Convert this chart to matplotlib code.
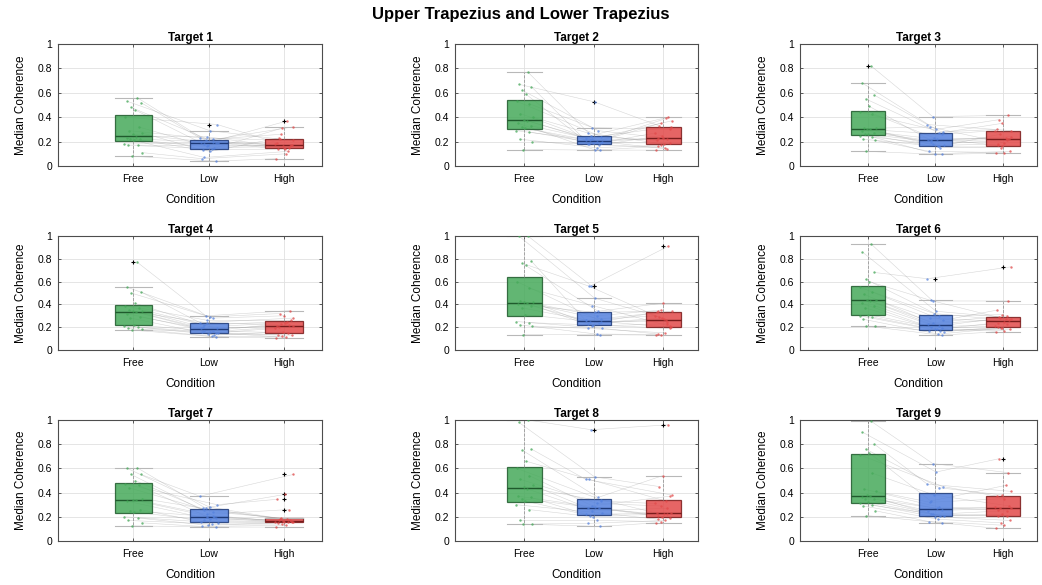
import matplotlib
matplotlib.use('Agg')
import matplotlib.pyplot as plt
import numpy as np

plt.rcParams['font.family'] = ['Liberation Sans', 'DejaVu Sans']

conditions = ['Free', 'Low', 'High']

# median coherence per subject (20 subjects), per target
t1_free = [0.56, 0.53, 0.52, 0.48, 0.46, 0.40, 0.32, 0.29, 0.27, 0.26, 0.24, 0.23, 0.22, 0.22, 0.21, 0.18, 0.17, 0.17, 0.11, 0.08]
t1_low = [0.21, 0.29, 0.23, 0.20, 0.18, 0.34, 0.16, 0.22, 0.13, 0.19, 0.24, 0.12, 0.20, 0.15, 0.07, 0.19, 0.17, 0.14, 0.06, 0.04]
t1_high = [0.16, 0.22, 0.21, 0.15, 0.37, 0.19, 0.17, 0.26, 0.14, 0.18, 0.15, 0.23, 0.32, 0.16, 0.12, 0.14, 0.17, 0.31, 0.10, 0.06]

t2_free = [0.77, 0.67, 0.65, 0.62, 0.59, 0.53, 0.51, 0.43, 0.40, 0.38, 0.37, 0.35, 0.33, 0.32, 0.31, 0.29, 0.28, 0.22, 0.20, 0.135]
t2_low = [0.25, 0.525, 0.21, 0.29, 0.18, 0.24, 0.315, 0.20, 0.27, 0.19, 0.22, 0.13, 0.23, 0.17, 0.21, 0.20, 0.19, 0.15, 0.18, 0.13]
t2_high = [0.40, 0.33, 0.37, 0.23, 0.39, 0.21, 0.30, 0.35, 0.18, 0.27, 0.22, 0.16, 0.32, 0.25, 0.14, 0.23, 0.19, 0.17, 0.15, 0.13]

t3_free = [0.82, 0.68, 0.58, 0.55, 0.49, 0.44, 0.43, 0.31, 0.31, 0.30, 0.30, 0.29, 0.27, 0.26, 0.26, 0.25, 0.24, 0.22, 0.21, 0.12]
t3_low = [0.405, 0.30, 0.34, 0.27, 0.21, 0.28, 0.23, 0.16, 0.32, 0.26, 0.18, 0.22, 0.21, 0.15, 0.20, 0.17, 0.10, 0.16, 0.12, 0.095]
t3_high = [0.415, 0.38, 0.29, 0.35, 0.23, 0.30, 0.22, 0.26, 0.19, 0.29, 0.21, 0.17, 0.24, 0.16, 0.22, 0.18, 0.12, 0.15, 0.11, 0.105]

t4_free = [0.77, 0.55, 0.51, 0.50, 0.41, 0.39, 0.37, 0.35, 0.34, 0.34, 0.33, 0.32, 0.29, 0.28, 0.22, 0.21, 0.20, 0.19, 0.18, 0.175]
t4_low = [0.30, 0.29, 0.24, 0.28, 0.22, 0.19, 0.26, 0.17, 0.20, 0.15, 0.24, 0.16, 0.19, 0.13, 0.17, 0.15, 0.14, 0.12, 0.16, 0.115]
t4_high = [0.345, 0.32, 0.28, 0.30, 0.25, 0.21, 0.26, 0.23, 0.24, 0.19, 0.22, 0.20, 0.21, 0.16, 0.15, 0.135, 0.13, 0.12, 0.11, 0.105]

t5_free = [1.0, 1.0, 0.78, 0.76, 0.75, 0.60, 0.54, 0.43, 0.42, 0.42, 0.41, 0.40, 0.39, 0.37, 0.31, 0.25, 0.24, 0.22, 0.21, 0.135]
t5_low = [0.565, 0.455, 0.26, 0.34, 0.56, 0.25, 0.39, 0.30, 0.23, 0.27, 0.21, 0.33, 0.26, 0.24, 0.25, 0.19, 0.22, 0.14, 0.19, 0.135]
t5_high = [0.91, 0.29, 0.34, 0.41, 0.26, 0.33, 0.21, 0.35, 0.27, 0.30, 0.23, 0.34, 0.20, 0.28, 0.25, 0.14, 0.19, 0.135, 0.15, 0.13]

t6_free = [0.93, 0.86, 0.68, 0.62, 0.60, 0.55, 0.51, 0.49, 0.44, 0.44, 0.43, 0.41, 0.39, 0.37, 0.31, 0.30, 0.29, 0.27, 0.21, 0.21]
t6_low = [0.43, 0.34, 0.625, 0.30, 0.435, 0.26, 0.32, 0.21, 0.28, 0.19, 0.24, 0.18, 0.23, 0.17, 0.20, 0.16, 0.18, 0.14, 0.17, 0.13]
t6_high = [0.43, 0.29, 0.73, 0.31, 0.27, 0.35, 0.26, 0.28, 0.25, 0.21, 0.30, 0.24, 0.27, 0.19, 0.23, 0.20, 0.18, 0.19, 0.17, 0.16]

t7_free = [0.605, 0.60, 0.55, 0.55, 0.50, 0.47, 0.46, 0.44, 0.35, 0.34, 0.34, 0.33, 0.26, 0.25, 0.24, 0.20, 0.19, 0.17, 0.15, 0.125]
t7_low = [0.27, 0.28, 0.37, 0.21, 0.26, 0.30, 0.20, 0.24, 0.27, 0.19, 0.22, 0.18, 0.16, 0.20, 0.17, 0.15, 0.13, 0.14, 0.12, 0.115]
t7_high = [0.17, 0.185, 0.55, 0.16, 0.18, 0.345, 0.165, 0.19, 0.385, 0.16, 0.26, 0.17, 0.155, 0.165, 0.16, 0.15, 0.155, 0.14, 0.13, 0.115]

t8_free = [1.0, 0.98, 0.76, 0.75, 0.66, 0.60, 0.54, 0.51, 0.46, 0.45, 0.43, 0.37, 0.36, 0.35, 0.33, 0.30, 0.26, 0.17, 0.14, 0.14]
t8_low = [0.92, 0.53, 0.51, 0.36, 0.51, 0.34, 0.29, 0.31, 0.27, 0.33, 0.25, 0.28, 0.22, 0.27, 0.21, 0.23, 0.20, 0.17, 0.145, 0.12]
t8_high = [0.96, 0.45, 0.38, 0.54, 0.33, 0.23, 0.37, 0.29, 0.22, 0.31, 0.27, 0.21, 0.23, 0.20, 0.22, 0.18, 0.19, 0.16, 0.17, 0.15]

t9_free = [0.99, 0.90, 0.80, 0.76, 0.73, 0.71, 0.56, 0.43, 0.41, 0.38, 0.37, 0.36, 0.35, 0.35, 0.32, 0.31, 0.30, 0.29, 0.25, 0.21]
t9_low = [0.64, 0.57, 0.47, 0.44, 0.33, 0.45, 0.38, 0.28, 0.32, 0.26, 0.22, 0.27, 0.25, 0.21, 0.22, 0.21, 0.20, 0.18, 0.16, 0.15]
t9_high = [0.565, 0.68, 0.41, 0.38, 0.46, 0.37, 0.29, 0.27, 0.35, 0.28, 0.21, 0.26, 0.27, 0.22, 0.25, 0.21, 0.17, 0.15, 0.13, 0.105]

targets = [
    (t1_free, t1_low, t1_high), (t2_free, t2_low, t2_high), (t3_free, t3_low, t3_high),
    (t4_free, t4_low, t4_high), (t5_free, t5_low, t5_high), (t6_free, t6_low, t6_high),
    (t7_free, t7_low, t7_high), (t8_free, t8_low, t8_high), (t9_free, t9_low, t9_high),
]

face_cols = ['#46aa5a', '#5582de', '#e24a4a']
edge_cols = ['#1f5a2c', '#1e3a78', '#7a1c1c']

# fixed horizontal jitter for the dots (style only)
jit = np.array([0.05, -0.08, 0.10, -0.03, 0.02, -0.11, 0.07, -0.06, 0.12, -0.01,
                0.04, -0.09, 0.09, -0.04, 0.01, -0.12, 0.06, -0.07, 0.11, -0.02])

# axes placement in pixels (left, right) per column and (top, bottom) per row
W, H = 1042., 585.
cols_px = [(58, 322), (455, 698), (800, 1037)]
rows_px = [(44, 166), (236, 350), (420, 541)]

fig = plt.figure(figsize=(W/100, H/100), dpi=100)
fig.text(0.5, 1 - 15/H, 'Upper Trapezius and Lower Trapezius', ha='center', va='center',
         fontsize=12, fontweight='bold')

for k, data in enumerate(targets):
    r, c = divmod(k, 3)
    x0, x1 = cols_px[c]
    y0, y1 = rows_px[r]
    ax = fig.add_axes([x0/W, 1 - y1/H, (x1 - x0)/W, (y1 - y0)/H])

    xs = [np.arange(1, 4)[i] + np.roll(jit, 7*i) for i in range(3)]

    # subject lines
    for s in range(len(data[0])):
        ax.plot([xs[0][s], xs[1][s], xs[2][s]], [data[0][s], data[1][s], data[2][s]],
                color='0.55', lw=0.4, alpha=0.35, zorder=1)

    bp = ax.boxplot(data, positions=[1, 2, 3], widths=0.5, patch_artist=True, whis=1.5,
                    capwidths=0.5,
                    medianprops=dict(lw=1.0),
                    whiskerprops=dict(color='0.6', lw=0.6, ls='--'),
                    capprops=dict(color='0.72', lw=0.8),
                    flierprops=dict(marker='+', markeredgecolor='black', markersize=3, mew=0.8),
                    zorder=2)
    for i in range(3):
        bp['boxes'][i].set_facecolor(face_cols[i])
        bp['boxes'][i].set_alpha(0.85)
        bp['boxes'][i].set_edgecolor(edge_cols[i])
        bp['boxes'][i].set_linewidth(0.9)
        bp['medians'][i].set_color(edge_cols[i])

    for i in range(3):
        ax.scatter(xs[i], data[i], s=3, color=face_cols[i], alpha=0.75, lw=0, zorder=3)

    ax.set_xlim(0, 3.5)
    ax.set_ylim(0, 1)
    ax.set_yticks([0, 0.2, 0.4, 0.6, 0.8, 1])
    ax.set_yticklabels(['0', '0.2', '0.4', '0.6', '0.8', '1'])
    ax.set_xticks([1, 2, 3])
    ax.set_xticklabels(conditions)
    ax.grid(True, color='0.88', lw=0.6)
    ax.set_axisbelow(True)
    ax.tick_params(axis='both', direction='in', length=2.5, width=0.6, labelsize=7.5,
                   right=True, top=True, colors='0.25', labelcolor='black', pad=4)
    ax.tick_params(axis='x', pad=6)
    for sp in ax.spines.values():
        sp.set_color('0.3')
        sp.set_linewidth(0.8)

    ax.set_title('Target %d' % (k + 1), fontsize=8.5, fontweight='bold', pad=2)
    ax.set_ylabel('Median Coherence', fontsize=8.5, labelpad=8)
    ax.set_xlabel('Condition', fontsize=8.5, labelpad=7)

plt.savefig('out.png', dpi=100)
